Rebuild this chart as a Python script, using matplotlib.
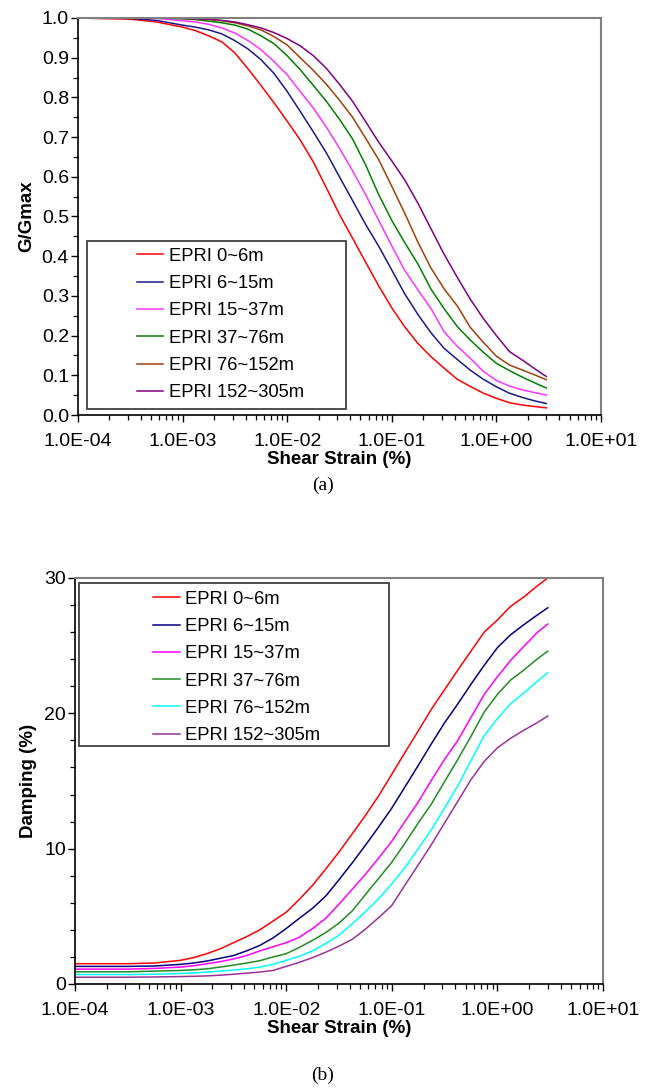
import matplotlib
matplotlib.use("Agg")
import matplotlib.pyplot as plt
from matplotlib.patches import Rectangle
from matplotlib.ticker import FixedLocator, LogLocator, MultipleLocator, NullFormatter, FuncFormatter

# shear strain (%) sample points
strain = [1.0e-4, 3.16e-4, 5.62e-4,
          1.0e-3, 1.33e-3, 1.78e-3, 2.37e-3, 3.16e-3, 4.22e-3, 5.62e-3, 7.50e-3,
          1.0e-2, 1.33e-2, 1.78e-2, 2.37e-2, 3.16e-2, 4.22e-2, 5.62e-2, 7.50e-2,
          0.100, 0.133, 0.178, 0.237, 0.316, 0.422, 0.562, 0.750,
          1.00, 1.33, 1.78, 2.37, 3.00]

labels_g = ["EPRI 0~6m", "EPRI 6~15m", "EPRI 15~37m", "EPRI 37~76m",
            "EPRI 76~152m", "EPRI 152~305m"]
colors_g = ["#ff0000", "#1a1a8c", "#ff33ff", "#008000", "#a0400a", "#800080"]

# G/Gmax
g_0_6 = [1.0, 0.997, 0.99, 0.977, 0.968, 0.955, 0.94, 0.912,
         0.872, 0.83, 0.786, 0.74, 0.693, 0.637, 0.572, 0.505,
         0.445, 0.385, 0.325, 0.27, 0.222, 0.18, 0.147, 0.118,
         0.09, 0.072, 0.055, 0.042, 0.031, 0.025, 0.021, 0.018]
g_6_15 = [1.0, 0.999, 0.994, 0.982, 0.977, 0.97, 0.96, 0.943,
          0.922, 0.895, 0.86, 0.815, 0.765, 0.713, 0.66, 0.60,
          0.54, 0.48, 0.425, 0.365, 0.305, 0.253, 0.207, 0.168,
          0.14, 0.113, 0.09, 0.071, 0.055, 0.044, 0.035, 0.029]
g_15_37 = [1.0, 1.0, 0.999, 0.993, 0.99, 0.984, 0.975, 0.962,
           0.943, 0.92, 0.89, 0.857, 0.815, 0.773, 0.725, 0.672,
           0.615, 0.555, 0.49, 0.426, 0.364, 0.315, 0.268, 0.21,
           0.173, 0.143, 0.11, 0.087, 0.073, 0.063, 0.056, 0.05]
g_37_76 = [1.0, 1.0, 1.0, 0.998, 0.996, 0.992, 0.988, 0.982,
           0.972, 0.955, 0.935, 0.905, 0.87, 0.83, 0.79, 0.745,
           0.695, 0.63, 0.555, 0.49, 0.434, 0.38, 0.317, 0.268,
           0.223, 0.189, 0.158, 0.13, 0.112, 0.095, 0.08, 0.068]
g_76_152 = [1.0, 1.0, 1.0, 0.999, 0.998, 0.996, 0.993, 0.988,
            0.98, 0.97, 0.953, 0.932, 0.90, 0.868, 0.833, 0.793,
            0.75, 0.697, 0.643, 0.576, 0.508, 0.435, 0.37, 0.318,
            0.275, 0.221, 0.183, 0.148, 0.126, 0.113, 0.10, 0.089]
g_152_305 = [1.0, 1.0, 1.0, 0.999, 0.998, 0.997, 0.994, 0.99,
             0.983, 0.975, 0.963, 0.948, 0.93, 0.905, 0.873, 0.833,
             0.79, 0.739, 0.687, 0.64, 0.592, 0.533, 0.469, 0.405,
             0.347, 0.292, 0.243, 0.2, 0.16, 0.138, 0.115, 0.097]

labels_d = ["EPRI 0~6m", "EPRI 6~15m", "EPRI 15~37m", "EPRI 37~76m",
            "EPRI 76~152m", "EPRI 152~305m"]
colors_d = ["#ff0000", "#000080", "#ff00ff", "#228b22", "#00ffff", "#993399"]

# damping (%)
d_0_6 = [1.5, 1.5, 1.55, 1.75, 1.95, 2.25, 2.6, 3.05,
         3.5, 4.0, 4.65, 5.3, 6.25, 7.3, 8.5, 9.75,
         11.1, 12.45, 13.9, 15.5, 17.1, 18.7, 20.3, 21.75,
         23.2, 24.6, 26.0, 26.9, 27.9, 28.6, 29.4, 30.0]
d_6_15 = [1.3, 1.3, 1.33, 1.45, 1.55, 1.7, 1.9, 2.1,
          2.45, 2.85, 3.4, 4.1, 4.85, 5.6, 6.5, 7.7,
          8.95, 10.25, 11.6, 13.0, 14.55, 16.15, 17.75, 19.3,
          20.7, 22.15, 23.55, 24.85, 25.8, 26.55, 27.25, 27.8]
d_15_37 = [1.1, 1.1, 1.15, 1.25, 1.35, 1.5, 1.65, 1.85,
           2.1, 2.45, 2.75, 3.05, 3.45, 4.1, 4.85, 5.9,
           7.0, 8.1, 9.3, 10.55, 12.0, 13.45, 15.05, 16.6,
           18.0, 19.7, 21.4, 22.7, 23.9, 24.95, 25.95, 26.6]
d_37_76 = [0.9, 0.9, 0.95, 1.0, 1.05, 1.12, 1.25, 1.4,
           1.55, 1.72, 2.0, 2.24, 2.7, 3.23, 3.8, 4.5,
           5.4, 6.6, 7.8, 9.0, 10.4, 11.9, 13.3, 14.95,
           16.6, 18.3, 20.1, 21.4, 22.45, 23.2, 24.0, 24.6]
d_76_152 = [0.7, 0.7, 0.72, 0.78, 0.82, 0.88, 0.95, 1.03,
            1.12, 1.25, 1.45, 1.75, 2.05, 2.45, 3.0, 3.6,
            4.45, 5.34, 6.3, 7.4, 8.6, 10.0, 11.4, 13.0,
            14.65, 16.5, 18.35, 19.6, 20.7, 21.5, 22.35, 23.0]
d_152_305 = [0.5, 0.5, 0.52, 0.55, 0.57, 0.6, 0.65, 0.72,
             0.8, 0.88, 1.0, 1.3, 1.6, 1.95, 2.35, 2.8,
             3.3, 4.05, 4.9, 5.8, 7.3, 8.8, 10.3, 11.9,
             13.5, 15.1, 16.45, 17.45, 18.15, 18.75, 19.3, 19.8]

x_ticks = [1e-4, 1e-3, 1e-2, 1e-1, 1e0, 1e1]

plt.rcParams["font.family"] = ["Liberation Sans", "DejaVu Sans"]

W, H = 648, 1091
fig = plt.figure(figsize=(W / 100, H / 100), dpi=100)


def px_axes(x0, y0, x1, y1):
    return fig.add_axes([x0 / W, 1 - y1 / H, (x1 - x0) / W, (y1 - y0) / H])


def exp_fmt(v, pos):
    mant, ex = ("%.1E" % v).split("E")
    return "%sE%s%02d" % (mant, ex[0], abs(int(ex)))


def style_axes(ax, ylabel):
    ax.set_xscale("log")
    ax.set_xlim(1e-4, 1e1)
    ax.xaxis.set_major_locator(FixedLocator(x_ticks))
    ax.xaxis.set_major_formatter(FuncFormatter(exp_fmt))
    ax.xaxis.set_minor_locator(LogLocator(base=10, subs=range(2, 10), numticks=20))
    ax.xaxis.set_minor_formatter(NullFormatter())
    for side in ("top", "right"):
        ax.spines[side].set_color("#808080")
        ax.spines[side].set_linewidth(1.5)
    for side in ("left", "bottom"):
        ax.spines[side].set_color("black")
        ax.spines[side].set_linewidth(1.2)
    ax.tick_params(axis="both", which="major", direction="out", length=5,
                   width=1.0, labelsize=14)
    ax.tick_params(axis="both", which="minor", direction="out", length=3.5,
                   width=0.9)
    ax.tick_params(axis="x", which="major", pad=8)
    ax.tick_params(axis="y", which="major", pad=1.5)
    ax.set_xlabel("Shear Strain (%)", fontsize=13.5, fontweight="bold", labelpad=1)
    ax.set_ylabel(ylabel, fontsize=13.5, fontweight="bold", labelpad=5)


def frame_legend(ax, handles, box, anchor, fs):
    x0, y0, x1, y1 = box
    ax.add_patch(Rectangle((x0, y0), x1 - x0, y1 - y0, transform=ax.transAxes,
                           facecolor="white", edgecolor="#404040",
                           linewidth=1.3, zorder=5))
    leg = ax.legend(handles=handles, loc="upper left", bbox_to_anchor=anchor,
                    frameon=False, fontsize=fs, handlelength=1.45,
                    handletextpad=0.3, labelspacing=0.56, borderpad=0,
                    borderaxespad=0)
    leg.set_zorder(6)


# (a) modulus reduction
ax1 = px_axes(78, 18, 601, 415)
g_series = [g_0_6, g_6_15, g_15_37, g_37_76, g_76_152, g_152_305]
lines = []
for vals, col, lab in zip(g_series, colors_g, labels_g):
    ln, = ax1.plot(strain, vals, color=col, lw=1.1, label=lab)
    lines.append(ln)
ax1.set_ylim(0, 1.0)
ax1.yaxis.set_major_locator(MultipleLocator(0.1))
ax1.yaxis.set_minor_locator(MultipleLocator(0.05))
ax1.yaxis.set_major_formatter(FuncFormatter(lambda v, p: "%.1f" % v))
style_axes(ax1, "G/Gmax")
frame_legend(ax1, lines, (0.0178, 0.0144, 0.5124, 0.439), (0.1122, 0.421), 13.2)

# (b) damping
ax2 = px_axes(75, 578, 603, 984)
d_series = [d_0_6, d_6_15, d_15_37, d_37_76, d_76_152, d_152_305]
lines = []
for vals, col, lab in zip(d_series, colors_d, labels_d):
    ln, = ax2.plot(strain, vals, color=col, lw=1.1, label=lab)
    lines.append(ln)
ax2.set_ylim(0, 30)
ax2.yaxis.set_major_locator(MultipleLocator(10))
ax2.yaxis.set_minor_locator(MultipleLocator(2))
style_axes(ax2, "Damping (%)")
frame_legend(ax2, lines, (0.0085, 0.587, 0.595, 0.988), (0.148, 0.9685), 13.2)

fig.text(323 / W, 1 - 485 / H, "(a)", ha="center", va="center", fontsize=14,
         family=["Liberation Serif", "DejaVu Serif"])
fig.text(323 / W, 1 - 1075 / H, "(b)", ha="center", va="center", fontsize=14,
         family=["Liberation Serif", "DejaVu Serif"])

fig.savefig("out.png", dpi=100)
